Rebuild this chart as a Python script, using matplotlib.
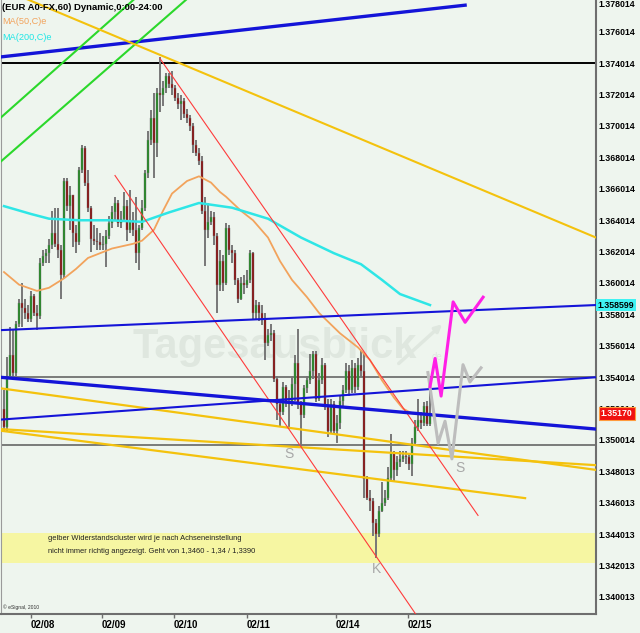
import numpy as np
import matplotlib
matplotlib.use('Agg')
import matplotlib.pyplot as plt
import matplotlib.transforms as mtransforms

plt.rcParams['font.family'] = ['Liberation Sans', 'DejaVu Sans']

# EUR A0-FX, 60 min candles (bar 0 = first visible hour); open of each bar = previous close
first_open = 1.3520
closes = [1.3508, 1.3541, 1.3554, 1.3543, 1.3574, 1.3587, 1.3584, 1.3581, 1.3577, 1.3592,
          1.3581, 1.3579, 1.3613, 1.3617, 1.3619, 1.3624, 1.3632, 1.3625, 1.3621, 1.3605,
          1.3665, 1.3649, 1.3656, 1.3632, 1.3626, 1.3672, 1.3686, 1.3664, 1.3648, 1.3628,
          1.3627, 1.3626, 1.3624, 1.3625, 1.3630, 1.3638, 1.3645, 1.3651, 1.3638, 1.3641,
          1.3649, 1.3634, 1.3640, 1.3634, 1.3619, 1.3635, 1.3648, 1.3670, 1.3691, 1.3705,
          1.3689, 1.3721, 1.3720, 1.3724, 1.3732, 1.3727, 1.3724, 1.3718, 1.3714, 1.3716,
          1.3708, 1.3705, 1.3700, 1.3688, 1.3683, 1.3678, 1.3646, 1.3634, 1.3639, 1.3642,
          1.3630, 1.3599, 1.3614, 1.3600, 1.3635, 1.3621, 1.3619, 1.3602, 1.3590, 1.3600,
          1.3599, 1.3602, 1.3619, 1.3581, 1.3586, 1.3581, 1.3577, 1.3562, 1.3567, 1.3568,
          1.3539, 1.3523, 1.3518, 1.3534, 1.3524, 1.3525, 1.3536, 1.3549, 1.3523, 1.3516,
          1.3533, 1.3538, 1.3544, 1.3555, 1.3526, 1.3538, 1.3548, 1.3521, 1.3506, 1.3523,
          1.3506, 1.3511, 1.3525, 1.3532, 1.3544, 1.3532, 1.3546, 1.3534, 1.3548, 1.3544,
          1.3475, 1.3463, 1.3461, 1.3447, 1.3440, 1.3455, 1.3460, 1.3463, 1.3476, 1.3491,
          1.3481, 1.3486, 1.3488, 1.3490, 1.3489, 1.3485, 1.3498, 1.3508, 1.3513, 1.3511,
          1.3522, 1.3510, 1.3517]
highs = [1.3532, 1.3553, 1.3572, 1.3570, 1.3576, 1.3590, 1.3600, 1.3590, 1.3586, 1.3595,
         1.3593, 1.3586, 1.3616, 1.3621, 1.3622, 1.3628, 1.3646, 1.3648, 1.3648, 1.3624,
         1.3667, 1.3667, 1.3662, 1.3656, 1.3637, 1.3674, 1.3688, 1.3687, 1.3672, 1.3649,
         1.3637, 1.3635, 1.3632, 1.3630, 1.3634, 1.3643, 1.3649, 1.3655, 1.3653, 1.3646,
         1.3658, 1.3653, 1.3659, 1.3645, 1.3655, 1.3637, 1.3653, 1.3672, 1.3697, 1.3710,
         1.3721, 1.3724, 1.3744, 1.3729, 1.3734, 1.3734, 1.3735, 1.3726, 1.3721, 1.3720,
         1.3718, 1.3711, 1.3707, 1.3702, 1.3691, 1.3686, 1.3681, 1.3655, 1.3651, 1.3646,
         1.3645, 1.3632, 1.3621, 1.3618, 1.3638, 1.3637, 1.3624, 1.3621, 1.3603, 1.3604,
         1.3605, 1.3608, 1.3621, 1.3620, 1.3589, 1.3588, 1.3586, 1.3581, 1.3571, 1.3574,
         1.3570, 1.3541, 1.3526, 1.3537, 1.3535, 1.3532, 1.3541, 1.3554, 1.3571, 1.3525,
         1.3535, 1.3541, 1.3555, 1.3557, 1.3557, 1.3543, 1.3552, 1.3549, 1.3526, 1.3526,
         1.3525, 1.3516, 1.3528, 1.3535, 1.3549, 1.3548, 1.3551, 1.3549, 1.3552, 1.3557,
         1.3555, 1.3477, 1.3468, 1.3463, 1.3450, 1.3458, 1.3473, 1.3468, 1.3483, 1.3504,
         1.3493, 1.3490, 1.3493, 1.3493, 1.3493, 1.3492, 1.3501, 1.3513, 1.3526, 1.3518,
         1.3524, 1.3525, 1.3533]
lows = [1.3505, 1.3506, 1.3539, 1.3540, 1.3541, 1.3572, 1.3572, 1.3577, 1.3575, 1.3575,
        1.3579, 1.3570, 1.3577, 1.3611, 1.3613, 1.3613, 1.3622, 1.3623, 1.3616, 1.3590,
        1.3603, 1.3646, 1.3634, 1.3623, 1.3619, 1.3624, 1.3670, 1.3662, 1.3645, 1.3620,
        1.3624, 1.3621, 1.3621, 1.3621, 1.3610, 1.3628, 1.3635, 1.3640, 1.3636, 1.3635,
        1.3639, 1.3627, 1.3632, 1.3630, 1.3613, 1.3608, 1.3634, 1.3646, 1.3667, 1.3688,
        1.3667, 1.3680, 1.3709, 1.3713, 1.3721, 1.3724, 1.3720, 1.3716, 1.3711, 1.3704,
        1.3705, 1.3702, 1.3697, 1.3683, 1.3681, 1.3675, 1.3644, 1.3611, 1.3629, 1.3637,
        1.3624, 1.3581, 1.3595, 1.3595, 1.3599, 1.3618, 1.3613, 1.3599, 1.3587, 1.3589,
        1.3593, 1.3597, 1.3600, 1.3577, 1.3577, 1.3576, 1.3573, 1.3551, 1.3560, 1.3563,
        1.3537, 1.3513, 1.3508, 1.3516, 1.3521, 1.3508, 1.3522, 1.3525, 1.3520, 1.3495,
        1.3514, 1.3530, 1.3536, 1.3539, 1.3524, 1.3525, 1.3536, 1.3519, 1.3502, 1.3504,
        1.3503, 1.3498, 1.3507, 1.3522, 1.3530, 1.3528, 1.3530, 1.3530, 1.3532, 1.3540,
        1.3463, 1.3462, 1.3455, 1.3439, 1.3425, 1.3438, 1.3454, 1.3458, 1.3462, 1.3474,
        1.3473, 1.3477, 1.3483, 1.3486, 1.3485, 1.3481, 1.3477, 1.3496, 1.3506, 1.3507,
        1.3509, 1.3509, 1.3509]

# moving averages (bar, value)
ma50_bars = [0, 5, 11, 15, 20, 24, 28, 32, 36, 43, 46, 50, 53, 56, 61, 65, 69, 72, 74, 79,
             83, 88, 92, 96, 101, 105, 112, 118, 122, 126, 130, 133, 136, 142]
ma50_vals = [1.3607, 1.3599, 1.3595, 1.3597, 1.3603, 1.3609, 1.3616, 1.3619, 1.3622, 1.3625,
             1.3627, 1.3634, 1.3646, 1.3657, 1.3665, 1.3668, 1.3664, 1.3658, 1.3655, 1.3646,
             1.3640, 1.3629, 1.3614, 1.3602, 1.3591, 1.3581, 1.3568, 1.3559, 1.3551, 1.3538,
             1.3527, 1.3520, 1.3517, 1.3516]
ma200_bars = [0, 9, 15, 25, 35, 46, 55, 65, 76, 88, 99, 110, 119, 126, 132, 142]
ma200_vals = [1.3649, 1.3644, 1.3641, 1.3640, 1.3640, 1.3639, 1.3645, 1.3651, 1.3648, 1.3641,
              1.3629, 1.3619, 1.3612, 1.3602, 1.3593, 1.3586]

# drawn trendlines: (bar start, bar end), (price start, price end)
blue_top = ([-1.3, 153.7], [1.3744, 1.3777])
green_a = ([-1.3, 50.0], [1.3705, 1.3792])
green_b = ([-1.3, 70.0], [1.3677, 1.3796])
gold_top = ([-1.3, 197.3], [1.3788, 1.3629])
gold_low = [([-1.3, 197.3], [1.3533, 1.3481]),
            ([-1.3, 197.3], [1.3507, 1.3484]),
            ([-1.3, 173.7], [1.3506, 1.3463])]
blue_upper = ([-1.3, 197.3], [1.3570, 1.3586])
blue_thick = ([-1.3, 197.3], [1.3540, 1.3507])
blue_thin = ([-1.3, 197.3], [1.3513, 1.3540])
red_channel = [([52.0, 158.0], [1.3743, 1.3452]),
               ([37.0, 138.0], [1.36685, 1.3387])]
h_levels = [1.374014, 1.3540, 1.3497]
resist_zone = (1.3422, 1.3441)

# forecast scribbles
pink_bars = [142, 143.7, 145.7, 149.7, 153.7, 159.7]
pink_vals = [1.3534, 1.3552, 1.3528, 1.3588, 1.3575, 1.3591]
grey_bars = [141.3, 144.7, 147.0, 149.3, 153.0, 155.3, 159.0]
grey_vals = [1.3543, 1.3498, 1.3512, 1.3488, 1.3548, 1.3537, 1.3546]
marks = [('S', 95, 1.3491), ('S', 152, 1.3482), ('K', 124.3, 1.3418)]

date_ticks = [9, 32.7, 56.7, 81, 110.7, 134.7]
date_labels = ['02/08', '02/09', '02/10', '02/11', '02/14', '02/15']
price_ticks = [1.340013, 1.342013, 1.344013, 1.346013, 1.348013, 1.350014, 1.352014,
               1.354014, 1.356014, 1.358014, 1.360014, 1.362014, 1.364014, 1.366014,
               1.368014, 1.370014, 1.372014, 1.374014, 1.376014, 1.378014]
price_labels = ['1.340013', '1.342013', '1.344013', '1.346013', '1.348013', '1.350014',
                '1.352014', '1.354014', '1.356014', '1.358014', '1.360014', '1.362014',
                '1.364014', '1.366014', '1.368014', '1.370014', '1.372014', '1.374014',
                '1.376014', '1.378014']
last_ma_level = 1.358599
last_price = 1.35170

bg = '#eef5ee'
fig = plt.figure(figsize=(6.40, 6.33), dpi=100, facecolor=bg)
ax = fig.add_axes([1 / 640, 19 / 633, 595 / 640, 614 / 633])
ax.set_facecolor(bg)
ax.set_xlim(-1.0, 197.33)
ax.set_ylim(1.33892, 1.37803)

# resistance zone + watermark
ax.axhspan(resist_zone[0], resist_zone[1], color='#f6f6a2', zorder=0.5, lw=0)
ax.text(0.46, 0.435, 'Tagesausblick', transform=ax.transAxes, fontsize=30,
        fontweight='bold', color='#dfe7df', ha='center', va='center', zorder=0.6)
ax.text(0.733, 0.418, 'de', transform=ax.transAxes, fontsize=7, color='#dfe7df',
        ha='center', va='center', zorder=0.6)
ax.annotate('', xy=(0.745, 0.475), xytext=(0.665, 0.405), xycoords='axes fraction',
            arrowprops=dict(arrowstyle='-|>', color='#dfe7df', lw=2.5), zorder=0.6)

# horizontal levels
ax.axhline(h_levels[0], color='black', lw=1.4, zorder=1)
for lv in h_levels[1:]:
    ax.axhline(lv, color='#5a5a5a', lw=1.1, zorder=1)

# candles
bars = np.arange(len(closes))
opens = [first_open] + closes[:-1]
hi = np.maximum(np.array(highs), np.maximum(opens, closes))
lo = np.minimum(np.array(lows), np.minimum(opens, closes))
ax.vlines(bars, lo, hi, color='#777777', lw=1.4, zorder=2)
body_lo = np.minimum(opens, closes)
body_h = np.maximum(np.abs(np.array(closes) - np.array(opens)), 0.00006)
cols = ['#1f8a1f' if c >= o else '#8a0c0c' for o, c in zip(opens, closes)]
ax.bar(bars, body_h, bottom=body_lo, width=0.85, color=cols, edgecolor='#777777',
       lw=0.3, zorder=2.2)

# moving averages
ax.plot(ma50_bars, ma50_vals, color='#f2a35c', lw=1.3, zorder=3)
ax.plot(ma200_bars, ma200_vals, color='#2ee6e6', lw=1.8, zorder=3)

# trendlines
ax.plot(*blue_top, color='#1414d8', lw=2.4, zorder=3)
ax.plot(*green_a, color='#2bd82b', lw=1.5, zorder=3)
ax.plot(*green_b, color='#2bd82b', lw=1.5, zorder=3)
ax.plot(*gold_top, color='#f4c20d', lw=1.5, zorder=3)
for xs, ys in gold_low:
    ax.plot(xs, ys, color='#f4c20d', lw=1.6, zorder=3)
ax.plot(*blue_upper, color='#1414d8', lw=1.5, zorder=3.1)
ax.plot(*blue_thick, color='#1414d8', lw=2.4, zorder=3.1)
ax.plot(*blue_thin, color='#1414d8', lw=1.5, zorder=3.1)
for xs, ys in red_channel:
    ax.plot(xs, ys, color='#ff3b3b', lw=0.8, zorder=3)

# forecast paths
ax.plot(grey_bars, grey_vals, color='#bdbdbd', lw=2.2, zorder=3.5)
ax.plot(pink_bars, pink_vals, color='#ff1fe6', lw=2.2, zorder=3.6)
for t, bx, pv in marks:
    ax.text(bx, pv, t, color='#a8a8a8', fontsize=10, ha='center', va='center', zorder=4)

# notes
ax.text(14.7, 1.34372, 'gelber Widerstandscluster wird je nach Achseneinstellung',
        fontsize=5.4, color='#202020', va='center', zorder=4)
ax.text(14.7, 1.34292, 'nicht immer richtig angezeigt. Geht von 1,3460 - 1,34 / 1,3390',
        fontsize=5.4, color='#202020', va='center', zorder=4)
ax.text(0.004, 0.006, '\u00a9 eSignal, 2010', transform=ax.transAxes, fontsize=3.6,
        color='#303030', va='bottom', zorder=4)

# header
fig.text(2 / 640, 1 - 8 / 633, '(EUR A0-FX,60) Dynamic,0:00-24:00', fontsize=6.8,
         fontweight='bold', color='black', va='center')
fig.text(2 / 640, 1 - 22 / 633, 'MA(50,C)e', fontsize=6.6, color='#f2a35c', va='center')
fig.text(2 / 640, 1 - 37 / 633, 'MA(200,C)e', fontsize=6.6, color='#1fe6e6', va='center')

# axes styling
ax.spines['top'].set_visible(False)
ax.spines['left'].set_color('#9a9a9a')
ax.spines['left'].set_linewidth(0.8)
for s in ['right', 'bottom']:
    ax.spines[s].set_color('#6e6e6e')
    ax.spines[s].set_linewidth(1.5)

ax.yaxis.tick_right()
ax.set_yticks(price_ticks)
ax.set_yticklabels(price_labels, fontsize=6.3, fontweight='bold')
ax.get_yticklabels()[-1].set_verticalalignment('top')
ax.tick_params(axis='y', length=0, pad=2)
ax.set_xticks(date_ticks)
ax.set_xticklabels(date_labels, fontsize=7, fontweight='bold', ha='left')
ax.tick_params(axis='x', length=3, width=1, color='#6e6e6e', pad=1, direction='out')

trans = mtransforms.blended_transform_factory(ax.transAxes, ax.transData)
ax.text(1.003, last_ma_level, '1.358599', transform=trans, fontsize=6.3, fontweight='bold',
        color='black', va='center', ha='left', zorder=6, clip_on=False,
        bbox=dict(boxstyle='square,pad=0.15', fc='#3ff2f2', ec='none'))
ax.text(1.008, last_price, '1.35170', transform=trans, fontsize=6.3, fontweight='bold',
        color='white', va='center', ha='left', zorder=6, clip_on=False,
        bbox=dict(boxstyle='square,pad=0.25', fc='#f01010', ec='#ff9a3c', lw=0.8))

fig.savefig('out.png', dpi=100, facecolor=bg)
